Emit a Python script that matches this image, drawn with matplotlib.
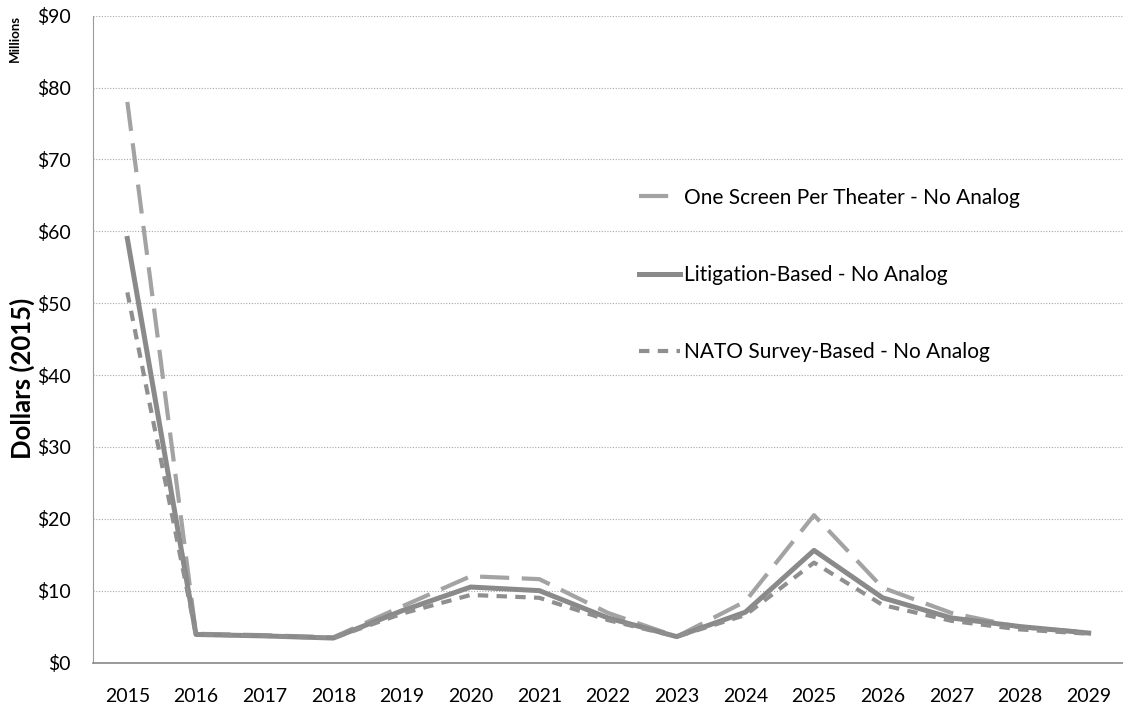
import matplotlib
matplotlib.use("Agg")
import matplotlib.pyplot as plt

years = list(range(2015, 2030))

one_screen = [78.0, 4.0, 3.8, 3.5, 7.8, 12.0, 11.6, 6.9, 3.6, 8.5, 20.5, 10.4, 6.9, 4.9, 4.2]
litigation = [59.0, 3.9, 3.7, 3.4, 7.2, 10.5, 10.0, 6.2, 3.6, 7.0, 15.6, 9.0, 6.2, 5.0, 4.1]
nato_survey = [51.5, 3.9, 3.7, 3.4, 6.8, 9.4, 9.0, 5.9, 3.6, 6.6, 13.9, 8.0, 5.8, 4.6, 4.0]

labels = ["One Screen Per Theater - No Analog",
          "Litigation-Based - No Analog",
          "NATO Survey-Based - No Analog"]

yticks = list(range(0, 91, 10))

plt.rcParams['font.family'] = ['Lato', 'DejaVu Sans']

fig = plt.figure(figsize=(11.23, 7.05), dpi=100)
ax = fig.add_axes([93/1123, 1 - 662.5/705, 1030/1123, (662.5-15.7)/705])

ax.plot(years, one_screen, color='#a3a3a3', lw=3.0, dashes=(7, 3), label=labels[0])
ax.plot(years, litigation, color='#8a8a8a', lw=3.6, label=labels[1])
ax.plot(years, nato_survey, color='#8f8f8f', lw=3.0, dashes=(2.5, 2), label=labels[2])

ax.set_xlim(2014.5, 2029.5)
ax.set_ylim(0, 90)
ax.set_xticks(years)
ax.set_xticklabels([str(y) for y in years])
ax.set_yticks(yticks)
ax.set_yticklabels(['$%d' % v for v in yticks])
ax.tick_params(axis='both', length=0, labelsize=14)
ax.tick_params(axis='y', pad=16)
ax.tick_params(axis='x', pad=18)

ax.grid(axis='y', color='#a8a8a8', ls=(0, (1, 1.5)), lw=0.8)
ax.set_axisbelow(True)
for s in ['top', 'right']:
    ax.spines[s].set_visible(False)
ax.spines['left'].set_color('#9a9a9a')
ax.spines['left'].set_linestyle((0, (1, 1)))
ax.spines['bottom'].set_color('#888888')
ax.spines['bottom'].set_linewidth(1.2)

ax.set_ylabel('Dollars (2015)', fontsize=18.5, fontweight='bold', va='center')
ax.yaxis.set_label_coords(-0.069, 0.44)
fig.text(15/1123, 1 - 38/705, 'Millions', rotation=90, fontsize=9.5,
         fontweight='bold', ha='center', va='center')

leg = ax.legend(loc='center left', bbox_to_anchor=(620/1123, 1 - 275/705),
                bbox_transform=fig.transFigure, frameon=False, fontsize=15,
                handlelength=2.0, handletextpad=0.15, labelspacing=2.75)

fig.savefig('out.png', dpi=100)
